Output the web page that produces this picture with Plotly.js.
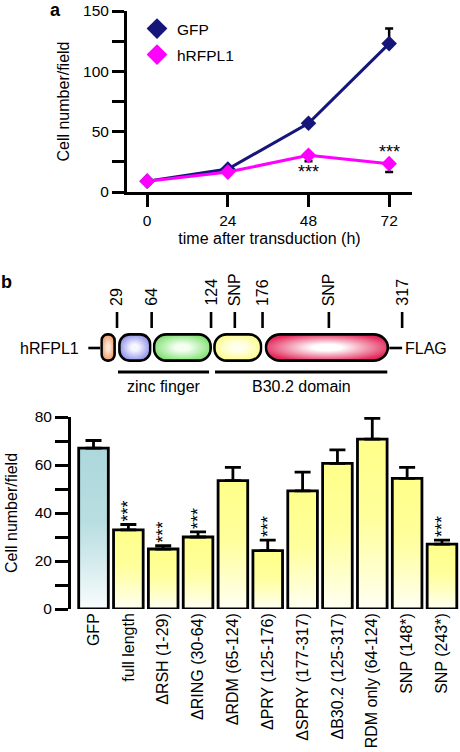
<!DOCTYPE html>
<html><head><meta charset="utf-8">
<script src="https://cdn.plot.ly/plotly-3.0.1.min.js"></script>
<style>html,body{margin:0;padding:0;background:#fff;} #chart{width:460px;height:752px;}</style>
</head><body><div id="chart"></div>
<script>
// ---------- Panel a data ----------
const timeHours = [0, 24, 48, 72];
const gfpCells = [9, 19, 57, 123];
const gfpErr = [0, 0, 0, 12.5];
const hrfpl1Cells = [9, 16.5, 30.5, 23.5];
const hrfpl1Err = [0, 0, 5, 7];
const timeTicks = [0, 24, 48, 72];

// ---------- Panel b construct diagram (residue positions) ----------
const siteResidues = [29, 64, 124, 148, 176, 243, 317];
const siteLabels = ['29', '64', '124', 'SNP', '176', 'SNP', '317'];
const domainStart = [12, 30, 65, 126, 178];
const domainEnd = [28, 64, 125, 176, 304];
const domainEdge = ['#ea9460', '#8a8ae8', '#7fe070', '#fbfb8a', '#e3285a'];
const domainCore = ['#ffe6d4', '#f6f6ff', '#f4fff2', '#ffffee', '#ffffff'];
const regionNames = ['zinc finger', 'B30.2 domain'];
const regionStart = [30, 128];
const regionEnd = [122, 302];

// ---------- Panel b bar data ----------
const constructs = ['GFP', 'full length', 'ΔRSH (1-29)', 'ΔRING (30-64)', 'ΔRDM (65-124)',
  'ΔPRY (125-176)', 'ΔSPRY (177-317)', 'ΔB30.2 (125-317)', 'RDM only (64-124)',
  'SNP (148*)', 'SNP (243*)'];
const cellCounts = [67, 33, 25, 30, 53.5, 24.3, 49.2, 60.7, 70.8, 54.4, 27];
const cellErr = [3.2, 2.2, 1.4, 2.1, 5.5, 4.4, 7.8, 5.6, 8.6, 4.6, 1.7];
const significance = ['', '***', '***', '***', '', '***', '', '', '', '', '***'];

// ---------- helpers ----------
const W = 460, H = 752;
const FONT = 'Liberation Sans, Arial, Helvetica, sans-serif';
const px = v => v / W;
const py = v => 1 - v / H;
const rx = r => (88.3 + 0.99 * r) / W;   // residue -> paper x
const svgURI = s => 'data:image/svg+xml;charset=utf-8,' + encodeURIComponent(s);

function barGradient(top, bottom) {
  return svgURI(`<svg xmlns="http://www.w3.org/2000/svg" width="10" height="100" viewBox="0 0 10 100" preserveAspectRatio="none"><defs><linearGradient id="g" x1="0" y1="0" x2="0" y2="1"><stop offset="0" stop-color="${top}"/><stop offset="0.45" stop-color="${top}" stop-opacity="0.85"/><stop offset="1" stop-color="${bottom}"/></linearGradient></defs><rect width="10" height="100" fill="url(#g)"/></svg>`);
}
function pill(w, h, rad, edge, core) {
  return svgURI(`<svg xmlns="http://www.w3.org/2000/svg" width="${w}" height="${h}" viewBox="0 0 ${w} ${h}"><defs><radialGradient id="g" cx="0.5" cy="0.5" r="0.55"><stop offset="0" stop-color="${core}"/><stop offset="0.22" stop-color="${core}"/><stop offset="1" stop-color="${edge}"/></radialGradient></defs><rect x="1.4" y="1.4" width="${w - 2.8}" height="${h - 2.8}" rx="${rad}" ry="${rad}" fill="url(#g)" stroke="#000" stroke-width="2.6"/></svg>`);
}

const NAVY = '#16167a', MAG = '#ff00ff';
const idx = constructs.map((_, i) => i);

const traces = [
  { x: timeHours, y: gfpCells, type: 'scatter', mode: 'lines+markers', showlegend: false,
    line: { color: NAVY, width: 3 }, marker: { symbol: 'diamond', size: 12, color: NAVY },
    error_y: { type: 'data', symmetric: false, array: gfpErr, arrayminus: [0, 0, 0, 0], color: '#000', thickness: 2.5, width: 4 },
    xaxis: 'x', yaxis: 'y' },
  { x: timeHours, y: hrfpl1Cells, type: 'scatter', mode: 'lines+markers', showlegend: false,
    line: { color: MAG, width: 3 }, marker: { symbol: 'diamond', size: 12, color: MAG },
    error_y: { type: 'data', symmetric: false, array: [0, 0, 0, 0], arrayminus: hrfpl1Err, color: '#000', thickness: 2.5, width: 4 },
    xaxis: 'x', yaxis: 'y' },
  { x: [null], y: [null], type: 'scatter', mode: 'markers', name: 'GFP', legend: 'legend',
    marker: { symbol: 'diamond', size: 16, color: NAVY }, xaxis: 'x', yaxis: 'y' },
  { x: [null], y: [null], type: 'scatter', mode: 'markers', name: 'hRFPL1', legend: 'legend2',
    marker: { symbol: 'diamond', size: 16, color: MAG }, xaxis: 'x', yaxis: 'y' },
  // invisible carrier reaching the top of each error bar: holds the rotated significance marks
  { x: idx, y: cellCounts.map((v, i) => v + cellErr[i]), type: 'bar', width: 0.85, showlegend: false,
    hoverinfo: 'skip', marker: { color: 'rgba(0,0,0,0)', line: { width: 0 } },
    text: significance, textposition: 'outside', textangle: -90, constraintext: 'none', cliponaxis: false,
    textfont: { family: FONT, size: 18, color: '#000' }, xaxis: 'x2', yaxis: 'y2' },
  { x: idx, y: cellCounts, type: 'bar', width: 0.85, showlegend: false,
    marker: { color: 'rgba(0,0,0,0)', line: { color: '#000', width: 2.8 } },
    error_y: { type: 'data', symmetric: false, array: cellErr, arrayminus: cellErr.map(() => 0), color: '#000', thickness: 2.8, width: 8 },
    xaxis: 'x2', yaxis: 'y2' }
];

const images = cellCounts.map((v, i) => ({
  source: i === 0 ? barGradient('#acd8dc', '#fafdfd') : barGradient('#ffff8a', '#fffff6'),
  xref: 'x2', yref: 'y2', x: i - 0.425, y: v, sizex: 0.85, sizey: v,
  xanchor: 'left', yanchor: 'top', sizing: 'stretch', layer: 'below'
}));
const pillRad = [6, 10, 12, 12, 14.5];
domainStart.forEach((s, i) => {
  const w = (domainEnd[i] - s) * 0.99;
  images.push({ source: pill(w, 29, pillRad[i], domainEdge[i], domainCore[i]),
    xref: 'paper', yref: 'paper', x: rx(s), y: py(333), sizex: w / W, sizey: 29 / H,
    xanchor: 'left', yanchor: 'top', sizing: 'stretch', layer: 'above' });
});

const shapes = [];
const lineSeg = (x0, x1, y0, y1, wd) => shapes.push({ type: 'line', xref: 'paper', yref: 'paper',
  x0, x1, y0, y1, line: { color: '#000', width: wd } });
lineSeg(rx(0), rx(domainStart[0]), py(348), py(348), 2.6);
lineSeg(rx(domainEnd[4]), rx(317), py(348), py(348), 2.6);
siteResidues.forEach(r => lineSeg(rx(r), rx(r), py(312), py(328), 2.6));
regionStart.forEach((s, i) => lineSeg(rx(s), rx(regionEnd[i]), py(372), py(372), 3));

const annotations = [];
const ann = o => annotations.push(Object.assign({ showarrow: false, font: { family: FONT, size: 16, color: '#000' } }, o));
ann({ text: '<b>a</b>', xref: 'paper', yref: 'paper', x: px(55), y: py(10), xanchor: 'center', yanchor: 'middle', font: { family: FONT, size: 18, color: '#000' } });
ann({ text: '<b>b</b>', xref: 'paper', yref: 'paper', x: px(6), y: py(282), xanchor: 'center', yanchor: 'middle', font: { family: FONT, size: 18, color: '#000' } });
ann({ text: '***', xref: 'x', yref: 'y', x: timeHours[2], y: hrfpl1Cells[2], yshift: -17, xanchor: 'center', yanchor: 'middle', font: { family: FONT, size: 18, color: '#000' } });
ann({ text: '***', xref: 'x', yref: 'y', x: timeHours[3], y: hrfpl1Cells[3], yshift: 12, xanchor: 'center', yanchor: 'middle', font: { family: FONT, size: 18, color: '#000' } });
siteResidues.forEach((r, i) => ann({ text: siteLabels[i], xref: 'paper', yref: 'paper', x: rx(r), y: py(308), xanchor: 'center', yanchor: 'bottom', textangle: -90 }));
ann({ text: 'hRFPL1', xref: 'paper', yref: 'paper', x: px(81), y: py(348), xanchor: 'right', yanchor: 'middle' });
ann({ text: 'FLAG', xref: 'paper', yref: 'paper', x: px(403), y: py(348), xanchor: 'left', yanchor: 'middle' });
regionNames.forEach((n, i) => ann({ text: n, xref: 'paper', yref: 'paper', x: (rx(regionStart[i]) + rx(regionEnd[i])) / 2, y: py(386), xanchor: 'center', yanchor: 'middle' }));

const axisCommon = { showline: true, linecolor: '#000', linewidth: 3, ticks: 'outside', tickcolor: '#000',
  tickwidth: 3, showgrid: false, zeroline: false, tickfont: { family: FONT, size: 15.5, color: '#000' } };

const layout = {
  width: W, height: H, margin: { l: 0, r: 0, t: 0, b: 0 },
  paper_bgcolor: '#fff', plot_bgcolor: 'rgba(0,0,0,0)',
  font: { family: FONT, color: '#000' },
  showlegend: true, barmode: 'overlay',
  xaxis: Object.assign({}, axisCommon, { domain: [px(127), px(412)], range: [-6, 78.8], anchor: 'y',
    tickvals: timeTicks, ticklen: 12, title: { text: 'time after transduction (h)', font: { family: FONT, size: 16 }, standoff: 6 } }),
  yaxis: Object.assign({}, axisCommon, { domain: [py(192), py(11)], range: [0, 150], anchor: 'x',
    dtick: 50, ticklen: 12, minor: { dtick: 25, ticks: 'outside', ticklen: 12, tickwidth: 3, tickcolor: '#000' },
    title: { text: 'Cell number/field', font: { family: FONT, size: 16 }, standoff: 10 } }),
  xaxis2: { domain: [px(71), px(459.4)], range: [-0.646, 10.5], anchor: 'y2', showline: false, showgrid: false,
    zeroline: false, ticks: '', tickvals: idx, ticktext: constructs, tickangle: -90,
    tickfont: { family: FONT, size: 16, color: '#000' } },
  yaxis2: Object.assign({}, axisCommon, { domain: [py(609), py(417)], range: [0, 80], anchor: 'x2',
    dtick: 20, ticklen: 13, minor: { dtick: 10, ticks: 'outside', ticklen: 13, tickwidth: 3, tickcolor: '#000' },
    title: { text: 'Cell number/field', font: { family: FONT, size: 16 }, standoff: 14 } }),
  legend: { x: px(137), y: py(12), xanchor: 'left', yanchor: 'top', bgcolor: 'rgba(0,0,0,0)', font: { family: FONT, size: 15.5 } },
  legend2: { x: px(137), y: py(38), xanchor: 'left', yanchor: 'top', bgcolor: 'rgba(0,0,0,0)', font: { family: FONT, size: 15.5 } },
  images, shapes, annotations
};

Plotly.newPlot('chart', traces, layout, { displayModeBar: false, staticPlot: true });
</script>
</body></html>
